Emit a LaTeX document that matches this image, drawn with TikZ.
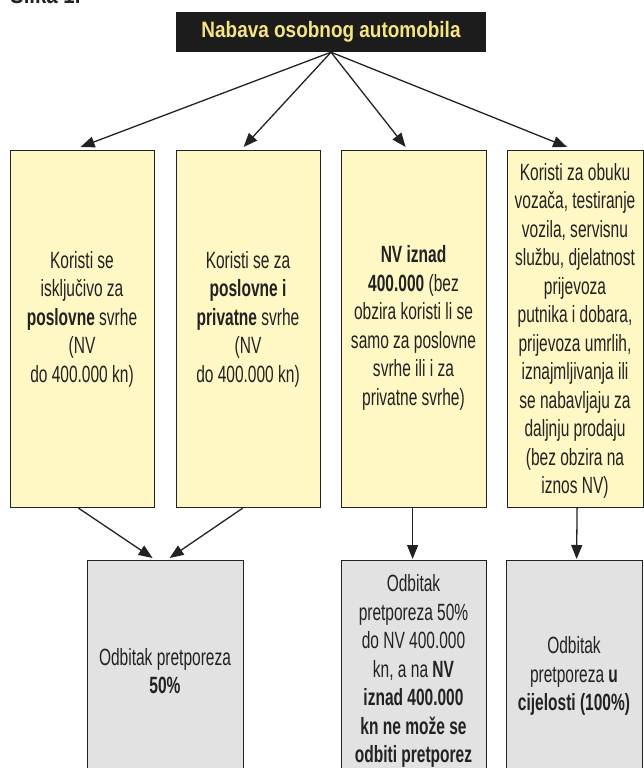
\documentclass[tikz,border=0pt]{standalone}
\usepackage{fontspec}
\setmainfont{Liberation Sans}[FakeStretch=0.66]
\newfontfamily\titlefont{Liberation Sans}[FakeStretch=0.85]
\usetikzlibrary{arrows.meta,calc}
\definecolor{cream}{HTML}{FFF7C4}
\definecolor{greybox}{HTML}{E2E2E2}
\definecolor{ink}{HTML}{222222}
\definecolor{titleyellow}{HTML}{F4E482}
\definecolor{titlebg}{HTML}{1C1C1C}
\begin{document}
\begin{tikzpicture}[x=1pt,y=-1pt,
  box/.style={draw=ink, line width=1.2pt, anchor=north west, inner sep=0pt},
  ybox/.style={box, fill=cream},
  gbox/.style={box, fill=greybox},
  txt/.style={align=center, text=ink, inner sep=0pt, font=\fontsize{23.5}{28.5}\selectfont},
  arr/.style={draw=ink, line width=1.3pt, -{Triangle[length=14pt,width=11pt]}}
]
\useasboundingbox (0,0) rectangle (643,768);

\node[anchor=base west, inner sep=0pt, text=ink, font=\titlefont\bfseries\fontsize{24}{28}\selectfont] (cap) at (10,3.5) {Slika 1.};

\node[fill=titlebg, minimum width=310pt, minimum height=40pt, inner sep=0pt,
      text=titleyellow, font=\titlefont\bfseries\fontsize{22.3}{26}\selectfont] (title) at (331,32) {Nabava osobnog automobila};

% top boxes
\node[ybox, minimum width=144pt, minimum height=357pt] (b1) at (10,150) {};
\node[ybox, minimum width=144pt, minimum height=357pt] (b2) at (176,150) {};
\node[ybox, minimum width=145pt, minimum height=357pt] (b3) at (341,150) {};
\node[ybox, minimum width=136pt, minimum height=357pt] (b4) at (507,150) {};

% bottom boxes
\node[gbox, minimum width=156pt, minimum height=240pt] (bA) at (87,560) {};
\node[gbox, minimum width=145pt, minimum height=240pt] (bB) at (341,560) {};
\node[gbox, minimum width=136pt, minimum height=240pt] (bC) at (506,560) {};

% texts
\node[txt] (t1) at (82,319) {Koristi se\\ isključivo za\\ \textbf{poslovne} svrhe\\ (NV\\ do 400.000 kn)};
\node[txt] (t2) at (248,319) {Koristi se za\\ \textbf{poslovne i}\\ \textbf{privatne} svrhe\\ (NV\\ do 400.000 kn)};
\node[txt] (t3) at (413.5,328) {\textbf{NV iznad}\\ \textbf{400.000} (bez\\ obzira koristi li se\\ samo za poslovne\\ svrhe ili i za\\ privatne svrhe)};
\node[txt] (t4) at (575,331) {Koristi za obuku\\ vozača, testiranje\\ vozila, servisnu\\ službu, djelatnost\\ prijevoza\\ putnika i dobara,\\ prijevoza umrlih,\\ iznajmljivanja ili\\ se nabavljaju za\\ daljnju prodaju\\ (bez obzira na\\ iznos NV)};
\node[txt] (tA) at (165,671) {Odbitak pretporeza\\ \textbf{50\%}};
\node[txt] (tB) at (413.5,671) {Odbitak\\ pretporeza 50\%\\ do NV 400.000\\ kn, a na \textbf{NV}\\ \textbf{iznad 400.000}\\ \textbf{kn ne može se}\\ \textbf{odbiti pretporez}};
\node[txt] (tC) at (574,676) {Odbitak\\ pretporeza \textbf{u}\\ \textbf{cijelosti (100\%)}};

% arrows
\draw[arr] (title.south) -- ($(b1.north)+(-2,-3)$);
\draw[arr] (title.south) -- ($(b2.north)+(-5,-3)$);
\draw[arr] (title.south) -- ($(b3.north)+(-8.5,-3)$);
\draw[arr] (title.south) -- ($(b4.north)+(-8.5,-3)$);
\draw[arr] ($(b1.south)+(-4,0)$) -- ($(bA.north)+(-13,-2)$);
\draw[arr] ($(b2.south)+(-6,0)$) -- ($(bA.north)+(4,-2)$);
\draw[arr] ($(b3.south)+(-1.5,0)$) -- ($(bB.north)+(-1.5,-1)$);
\draw[arr] ($(b4.south)+(1.5,0)$) -- ($(bC.north)+(2,-1)$);
\end{tikzpicture}
\end{document}
